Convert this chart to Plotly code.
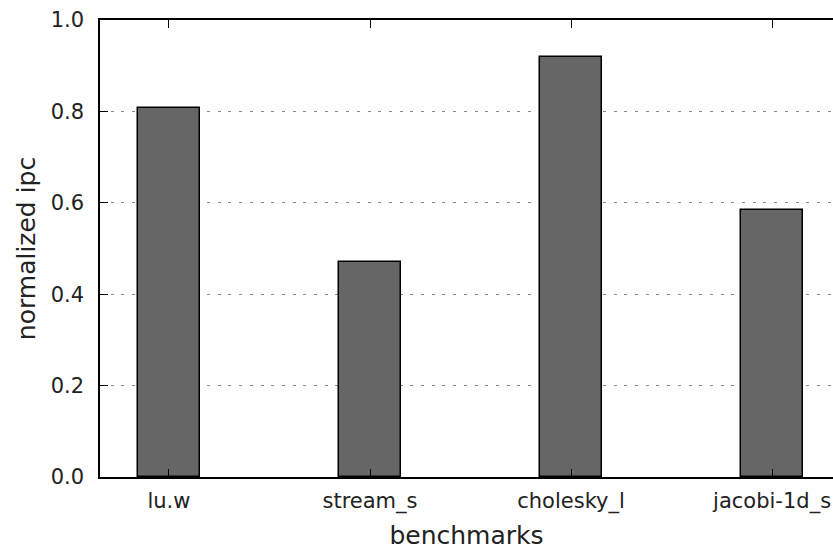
import plotly.graph_objects as go

categories = ["lu.w", "stream_s", "cholesky_l", "jacobi-1d_s"]
values = [0.807, 0.470, 0.919, 0.584]
y_ticks = [0.0, 0.2, 0.4, 0.6, 0.8, 1.0]
y_tick_labels = ["0.0", "0.2", "0.4", "0.6", "0.8", "1.0"]

fig = go.Figure(
    go.Bar(
        x=categories,
        y=values,
        width=0.31,
        marker=dict(color="#666666", line=dict(color="black", width=1.5)),
    )
)

font = "DejaVu Sans, Liberation Sans, sans-serif"
fig.update_layout(
    width=833,
    height=550,
    margin=dict(l=100, r=0, t=20, b=73),
    plot_bgcolor="white",
    paper_bgcolor="white",
    showlegend=False,
    font=dict(family=font, size=21, color="#222222"),
    bargap=0,
)
fig.update_xaxes(
    type="category",
    range=[-0.343, 3.303],
    showline=True,
    linecolor="black",
    linewidth=1.5,
    mirror="ticks",
    ticks="inside",
    ticklen=8,
    tickwidth=1,
    tickcolor="black",
    showgrid=False,
    layer="above traces",
    ticklabelstandoff=4,
    title=dict(text="benchmarks", font=dict(size=25), standoff=14),
    tickfont=dict(size=21),
)
fig.update_yaxes(
    range=[0, 1.0],
    tickvals=y_ticks,
    ticktext=y_tick_labels,
    showline=True,
    linecolor="black",
    linewidth=1.5,
    mirror=False,
    ticks="inside",
    ticklen=8,
    tickwidth=1,
    tickcolor="black",
    showgrid=True,
    gridcolor="#888888",
    gridwidth=1,
    griddash="3px,7.7px",
    zeroline=False,
    layer="above traces",
    ticklabelstandoff=10,
    title=dict(text="normalized ipc", font=dict(size=25), standoff=8),
    tickfont=dict(size=21),
)

fig.write_html("out.html")
